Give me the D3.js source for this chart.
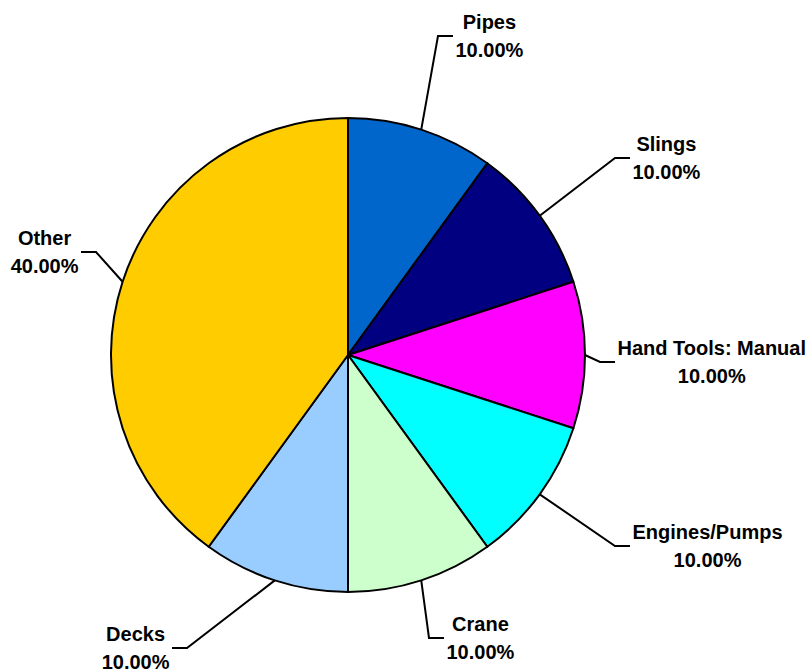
<!DOCTYPE html>
<html lang="en">
<head>
<meta charset="utf-8">
<title>Pie chart</title>
<script src="https://d3js.org/d3.v7.min.js"></script>
<style>
  body { margin: 0; background: #fff; }
  text { font-family: "Liberation Sans", Arial, sans-serif; font-weight: bold; font-size: 20px; fill: #000; }
</style>
</head>
<body>
<script>
// data
var categories = ["Pipes", "Slings", "Hand Tools: Manual", "Engines/Pumps", "Crane", "Decks", "Other"];
var values = [1, 1, 1, 1, 1, 1, 4];
var colors = ["#0066CC", "#000080", "#FF00FF", "#00FFFF", "#CCFFCC", "#99CCFF", "#FFCC00"];

// leader line elbows, offset from pie centre in px (layout only)
var elbows = [[90, -319], [267, -197], [252, 7], [267, 191], [81, 283], [-161, 293], [-252, -103]];

var w = 811, h = 669;
var cx = 348, cy = 355, r = 237;

var svg = d3.select("body").append("svg")
  .attr("width", w)
  .attr("height", h);

var total = d3.sum(values);
var table = categories.map(function(c, i) {
  return { name: c, value: values[i], color: colors[i], elbow: elbows[i] };
});

var pie = d3.pie().sort(null).value(function(d) { return d.value; });
var arc = d3.arc().innerRadius(0).outerRadius(r);
var arcs = pie(table);

var g = svg.append("g").attr("transform", "translate(" + cx + "," + cy + ")");

g.selectAll("path.slice")
  .data(arcs)
  .enter()
  .append("path")
  .attr("class", "slice")
  .attr("d", arc)
  .attr("fill", function(d) { return d.data.color; })
  .attr("stroke", "#000")
  .attr("stroke-width", 2)
  .attr("stroke-linejoin", "round");

// labels with leader lines
arcs.forEach(function(d) {
  var mid = (d.startAngle + d.endAngle) / 2;
  var p0 = [r * Math.sin(mid), -r * Math.cos(mid)];
  var e = d.data.elbow;
  var right = e[0] >= 0;
  var end = [e[0] + (right ? 15 : -15), e[1]];

  g.append("polyline")
    .attr("points", [p0, e, end].map(function(p) { return p.join(","); }).join(" "))
    .attr("fill", "none")
    .attr("stroke", "#000")
    .attr("stroke-width", 2);

  var pct = (d.data.value / total * 100).toFixed(2) + "%";
  var lbl = g.append("g");
  var t1 = lbl.append("text").attr("text-anchor", "middle").attr("y", end[1] - 7.5).text(d.data.name);
  var t2 = lbl.append("text").attr("text-anchor", "middle").attr("y", end[1] + 20.5).text(pct);
  var mw = Math.max(t1.node().getComputedTextLength(), t2.node().getComputedTextLength());
  var tx = right ? end[0] + 2.5 + mw / 2 : end[0] - 2.5 - mw / 2;
  t1.attr("x", tx);
  t2.attr("x", tx);
});
</script>
</body>
</html>
